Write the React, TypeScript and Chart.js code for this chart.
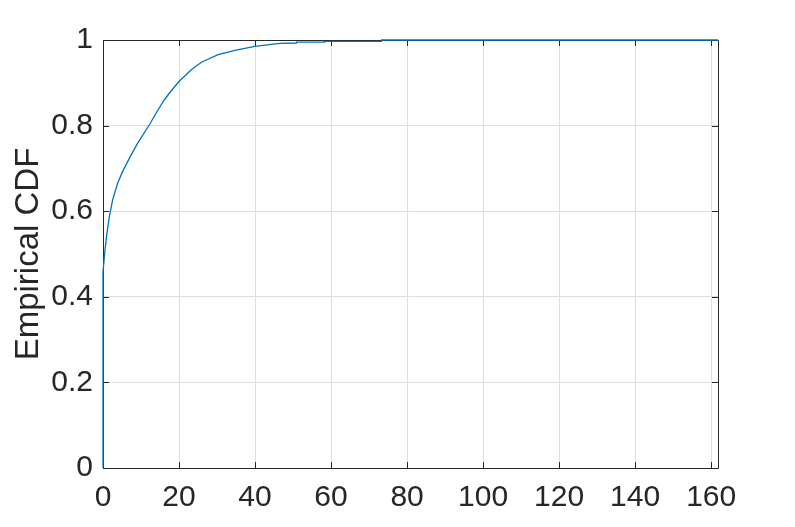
import React, { useEffect, useRef } from "react";
import { Chart, registerables } from "chart.js";

Chart.register(...registerables);

// Empirical CDF (x value, cumulative probability)
const xValues = [0, 0, 0.3, 0.53, 1.05, 1.68, 2.55, 3.87, 5.18, 6.95, 9.13, 12.2, 14.5, 16.2, 18, 20, 23.3, 25.9, 30.3, 34.7, 39.9, 46.5, 50.9, 50.9, 58.3, 58.3, 73.3, 73.3, 161.8];
const cdfValues = [0, 0.458, 0.487, 0.51, 0.549, 0.588, 0.627, 0.666, 0.693, 0.724, 0.759, 0.802, 0.837, 0.861, 0.882, 0.903, 0.931, 0.948, 0.966, 0.976, 0.985, 0.992, 0.993, 0.995, 0.995, 0.997, 0.997, 1, 1];

const xTicks = [0, 20, 40, 60, 80, 100, 120, 140, 160];
const yTicks = [0, 0.2, 0.4, 0.6, 0.8, 1];
const xMax = 161.8;
const yLabel = "Empirical CDF";

const AXIS = "#262626";
const GRID = "#dedede";
const LINE = "#0072BD";
const FONT = "'Liberation Sans', Arial, Helvetica, sans-serif";

const boxPlugin = {
  id: "matlabBox",
  beforeDatasetsDraw(chart: any) {
    const { ctx, chartArea } = chart;
    const xs = chart.scales.x;
    const ys = chart.scales.y;
    const { left, right, top, bottom } = chartArea;
    const tl = 6;
    ctx.save();
    ctx.strokeStyle = AXIS;
    ctx.lineWidth = 1;
    ctx.beginPath();
    ctx.rect(left + 0.5, top + 0.5, right - left, bottom - top);
    ctx.stroke();
    ctx.beginPath();
    for (const v of xTicks) {
      const p = Math.round(xs.getPixelForValue(v)) + 0.5;
      ctx.moveTo(p, bottom);
      ctx.lineTo(p, bottom - tl);
      ctx.moveTo(p, top);
      ctx.lineTo(p, top + tl);
    }
    for (const v of yTicks) {
      const p = Math.round(ys.getPixelForValue(v)) + 0.5;
      ctx.moveTo(left, p);
      ctx.lineTo(left + tl, p);
      ctx.moveTo(right, p);
      ctx.lineTo(right - tl, p);
    }
    ctx.stroke();
    ctx.restore();
  },
};

export default function App() {
  const ref = useRef<HTMLCanvasElement | null>(null);
  useEffect(() => {
    if (!ref.current) return;
    const data = xValues.map((x, i) => ({ x, y: cdfValues[i] }));
    const chart = new Chart(ref.current, {
      type: "line",
      data: {
        datasets: [
          {
            data,
            borderColor: LINE,
            borderWidth: 1.3,
            pointRadius: 0,
            fill: false,
            tension: 0,
            clip: false as any,
          },
        ],
      },
      options: {
        animation: false,
        responsive: false,
        maintainAspectRatio: false,
        parsing: false as any,
        layout: { padding: { top: 40, right: 77, left: 0, bottom: 0 } },
        plugins: { legend: { display: false }, tooltip: { enabled: false } },
        scales: {
          x: {
            type: "linear",
            min: 0,
            max: xMax,
            afterFit: (s: any) => {
              s.height = 59;
            },
            afterBuildTicks: (s: any) => {
              s.ticks = xTicks.map((v) => ({ value: v }));
            },
            grid: { color: GRID, drawTicks: false, lineWidth: 1 },
            border: { display: false },
            ticks: {
              color: AXIS,
              font: { family: FONT, size: 30 },
              padding: 12,
              maxRotation: 0,
              callback: (v: any) => String(v),
            },
          },
          y: {
            type: "linear",
            min: 0,
            max: 1,
            afterFit: (s: any) => {
              s.width = 103;
            },
            afterBuildTicks: (s: any) => {
              s.ticks = yTicks.map((v) => ({ value: v }));
            },
            grid: { color: GRID, drawTicks: false, lineWidth: 1 },
            border: { display: false },
            ticks: {
              color: AXIS,
              font: { family: FONT, size: 30 },
              padding: 10,
              callback: (v: any) => String(Math.round(v * 10) / 10),
            },
            title: {
              display: true,
              text: yLabel,
              color: AXIS,
              font: { family: FONT, size: 33, weight: "normal" },
              padding: { top: 9, bottom: 0 },
            },
          },
        },
      },
      plugins: [boxPlugin],
    });
    return () => chart.destroy();
  }, []);
  return (
    <div style={{ position: "fixed", left: 0, top: 0, width: 795, height: 527, background: "#fff" }}>
      <canvas ref={ref} width={795} height={527} style={{ width: 795, height: 527, display: "block" }} />
    </div>
  );
}
